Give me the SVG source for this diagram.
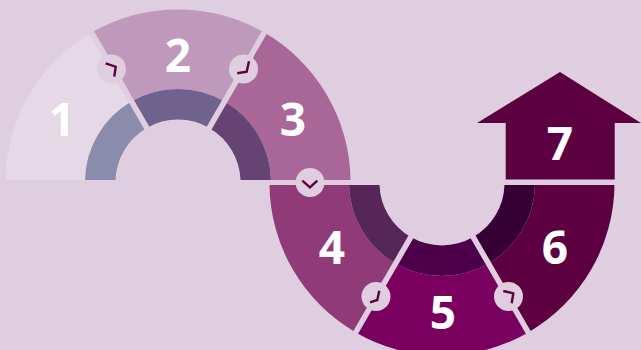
<svg xmlns="http://www.w3.org/2000/svg" width="641" height="350" viewBox="0 0 641 350">
<style>
.num{font-family:"Open Sans","Liberation Sans",sans-serif;font-weight:700;font-size:46px;fill:#fff;text-anchor:middle}
.sep{stroke:#dfcde0;stroke-width:5.5;fill:none}
.badge{fill:#dfcde0}
.chev{stroke:#5d0041;stroke-width:2.4;fill:none}
</style>
<rect width="641" height="350" fill="#dfcde0"/>
<g id="node-1">
<path fill="#e6d9e7" d="M5.5,180 A172.5,172.5 0 0 1 91.75,32.6 L131.5,101.5 A93,93 0 0 0 85,180 Z"/>
<path fill="#8b8bab" d="M85,180 A93,93 0 0 1 131.5,101.5 L146.75,127.9 A62.5,62.5 0 0 0 115.5,180 Z"/>
<text class="num" x="62" y="136">1</text>
</g>
<g id="node-2">
<path fill="#bf99bb" d="M91.75,32.6 A172.5,172.5 0 0 1 264.25,32.6 L224.5,101.5 A93,93 0 0 0 131.5,101.5 Z"/>
<path fill="#6f628c" d="M131.5,101.5 A93,93 0 0 1 224.5,101.5 L209.25,127.9 A62.5,62.5 0 0 0 146.75,127.9 Z"/>
<text class="num" x="178" y="72">2</text>
</g>
<g id="node-3">
<path fill="#a86798" d="M264.25,32.6 A172.5,172.5 0 0 1 350.5,180 L271,180 A93,93 0 0 0 224.5,101.5 Z"/>
<path fill="#654372" d="M224.5,101.5 A93,93 0 0 1 271,180 L240.5,180 A62.5,62.5 0 0 0 209.25,127.9 Z"/>
<text class="num" x="293" y="136">3</text>
</g>
<g id="node-4">
<path fill="#903b78" d="M269.5,185 A172.5,172.5 0 0 0 355.75,332.4 L395.5,263.5 A93,93 0 0 1 349,185 Z"/>
<path fill="#572658" d="M349,185 A93,93 0 0 0 395.5,263.5 L410.75,237.1 A62.5,62.5 0 0 1 379.5,185 Z"/>
<text class="num" x="332" y="264">4</text>
</g>
<g id="node-5">
<path fill="#79005f" d="M355.75,332.4 A172.5,172.5 0 0 0 528.25,332.4 L488.5,263.5 A93,93 0 0 1 395.5,263.5 Z"/>
<path fill="#4d0049" d="M395.5,263.5 A93,93 0 0 0 488.5,263.5 L473.25,237.1 A62.5,62.5 0 0 1 410.75,237.1 Z"/>
<text class="num" x="443" y="329">5</text>
</g>
<g id="node-6">
<path fill="#5d0041" d="M528.25,332.4 A172.5,172.5 0 0 0 614.5,185 L535,185 A93,93 0 0 1 488.5,263.5 Z"/>
<path fill="#370035" d="M488.5,263.5 A93,93 0 0 0 535,185 L504.5,185 A62.5,62.5 0 0 1 473.25,237.1 Z"/>
<text class="num" x="555" y="264">6</text>
</g>
<g id="node-7">
<path fill="#5d0041" d="M560,72 L641,123 L614.7,123 L614.7,179.5 L505.7,179.5 L505.7,123 L477,123 Z"/>
<text class="num" x="560" y="160">7</text>
</g>
<g id="connectors">
<path class="sep" d="M148,130 L90,29.6 M208,130 L266,29.6 M412,235 L354,335.4 M472,235 L530,335.4"/>
<circle class="badge" cx="111.5" cy="69" r="14.5"/>
<circle class="badge" cx="243.5" cy="69" r="14.5"/>
<circle class="badge" cx="310" cy="182.5" r="14.5"/>
<circle class="badge" cx="376" cy="296.5" r="14.5"/>
<circle class="badge" cx="508.5" cy="296.5" r="14.5"/>
<path class="chev" d="M105.7,63.3 L115.7,66.7 L114.3,76.7"/>
<path class="chev" d="M249,61.3 L246.7,71.7 L237.3,73.3"/>
<path class="chev" d="M302.3,180.7 L310,187.3 L317.3,180.7"/>
<path class="chev" d="M379.3,290.7 L377.3,300 L370,302.3"/>
<path class="chev" d="M503.3,291 L513.3,293.3 L511.7,303.3"/>
</g>
</svg>
